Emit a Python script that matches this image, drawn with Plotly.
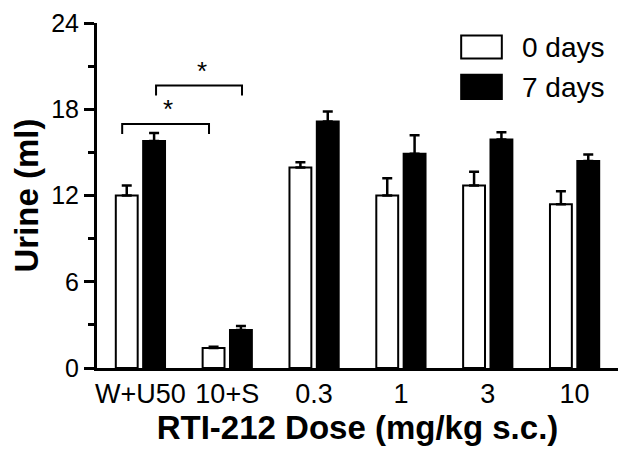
import plotly.graph_objects as go

categories = ["W+U50", "10+S", "0.3", "1", "3", "10"]
day0_mean = [12.0, 1.4, 13.95, 12.0, 12.7, 11.4]
day0_err = [0.7, 0.07, 0.37, 1.2, 0.95, 0.9]
day7_mean = [15.8, 2.65, 17.15, 14.9, 15.9, 14.4]
day7_err = [0.55, 0.27, 0.7, 1.3, 0.5, 0.45]
series_names = ["0 days", "7 days"]
y_ticks = [0, 6, 12, 18, 24]

# significance brackets (x in category units, y in ml)
bracket_x0 = [-0.21, 0.18]
bracket_x1 = [0.79, 1.17]
bracket_y = [16.97, 19.66]
bracket_drop = 0.7
star_x = [0.32, 0.71]
star_y = [18.0, 20.65]

FONT = "Liberation Sans, Arial, sans-serif"
x_idx = list(range(len(categories)))

fig = go.Figure()
fig.add_trace(go.Bar(
    x=x_idx, y=day0_mean, name=series_names[0],
    marker=dict(color="white", line=dict(color="black", width=2)),
    error_y=dict(type="data", symmetric=False, array=day0_err,
                 arrayminus=[0] * len(day0_err), color="black",
                 thickness=2.5, width=5),
))
fig.add_trace(go.Bar(
    x=x_idx, y=day7_mean, name=series_names[1],
    marker=dict(color="black", line=dict(color="black", width=2)),
    error_y=dict(type="data", symmetric=False, array=day7_err,
                 arrayminus=[0] * len(day7_err), color="black",
                 thickness=2.5, width=5),
))

shapes = []
for x0, x1, yb in zip(bracket_x0, bracket_x1, bracket_y):
    shapes.append(dict(
        type="path", xref="x", yref="y",
        path=f"M {x0},{yb - bracket_drop} L {x0},{yb} L {x1},{yb} L {x1},{yb - bracket_drop}",
        line=dict(color="black", width=2),
    ))

# manual legend boxes
leg_boxes = [(0.699, 0.897, 0.777, 0.964, "white"), (0.699, 0.780, 0.777, 0.850, "black")]
for x0, y0, x1, y1, c in leg_boxes:
    shapes.append(dict(type="rect", xref="paper", yref="paper",
                       x0=x0, y0=y0, x1=x1, y1=y1,
                       fillcolor=c, line=dict(color="black", width=2)))

annotations = []
for sx, sy in zip(star_x, star_y):
    annotations.append(dict(x=sx, y=sy, xref="x", yref="y", text="*",
                            showarrow=False, font=dict(family=FONT, size=26, color="black")))
for name, yy in zip(series_names, [0.930, 0.814]):
    annotations.append(dict(x=0.812, y=yy, xref="paper", yref="paper", text=name,
                            xanchor="left", yanchor="middle", showarrow=False,
                            font=dict(family=FONT, size=28, color="black")))

# page body has an 8px margin, so the figure is sized to fit inside the window
fig.update_layout(
    width=613, height=440,
    margin=dict(l=89, r=3, t=15, b=80),
    paper_bgcolor="white", plot_bgcolor="white",
    barmode="group", bargap=0.37, bargroupgap=0.2,
    showlegend=False,
    shapes=shapes, annotations=annotations,
    font=dict(family=FONT, color="black"),
)
fig.update_xaxes(
    tickmode="array", tickvals=x_idx, ticktext=categories,
    range=[-0.5, 5.5], showline=True, linecolor="black", linewidth=3,
    ticks="", showgrid=False, zeroline=False, automargin=False,
    tickfont=dict(family=FONT, size=27, color="black"),
    title=dict(text="<b>RTI-212 Dose (mg/kg s.c.)</b>", font=dict(family=FONT, size=33, color="black"),
               standoff=8),
)
fig.update_yaxes(
    range=[0, 24], tickmode="array", tickvals=y_ticks,
    showline=True, linecolor="black", linewidth=3,
    ticks="outside", ticklen=10, tickwidth=3, tickcolor="black",
    minor=dict(dtick=3, ticks="outside", ticklen=6, tickwidth=3, tickcolor="black"),
    showgrid=False, zeroline=False, automargin=False,
    ticklabeloverflow="allow",
    tickfont=dict(family=FONT, size=25, color="black"),
    title=dict(text="<b>Urine (ml)</b>", font=dict(family=FONT, size=33, color="black"),
               standoff=10),
)

fig.write_html("out.html")
